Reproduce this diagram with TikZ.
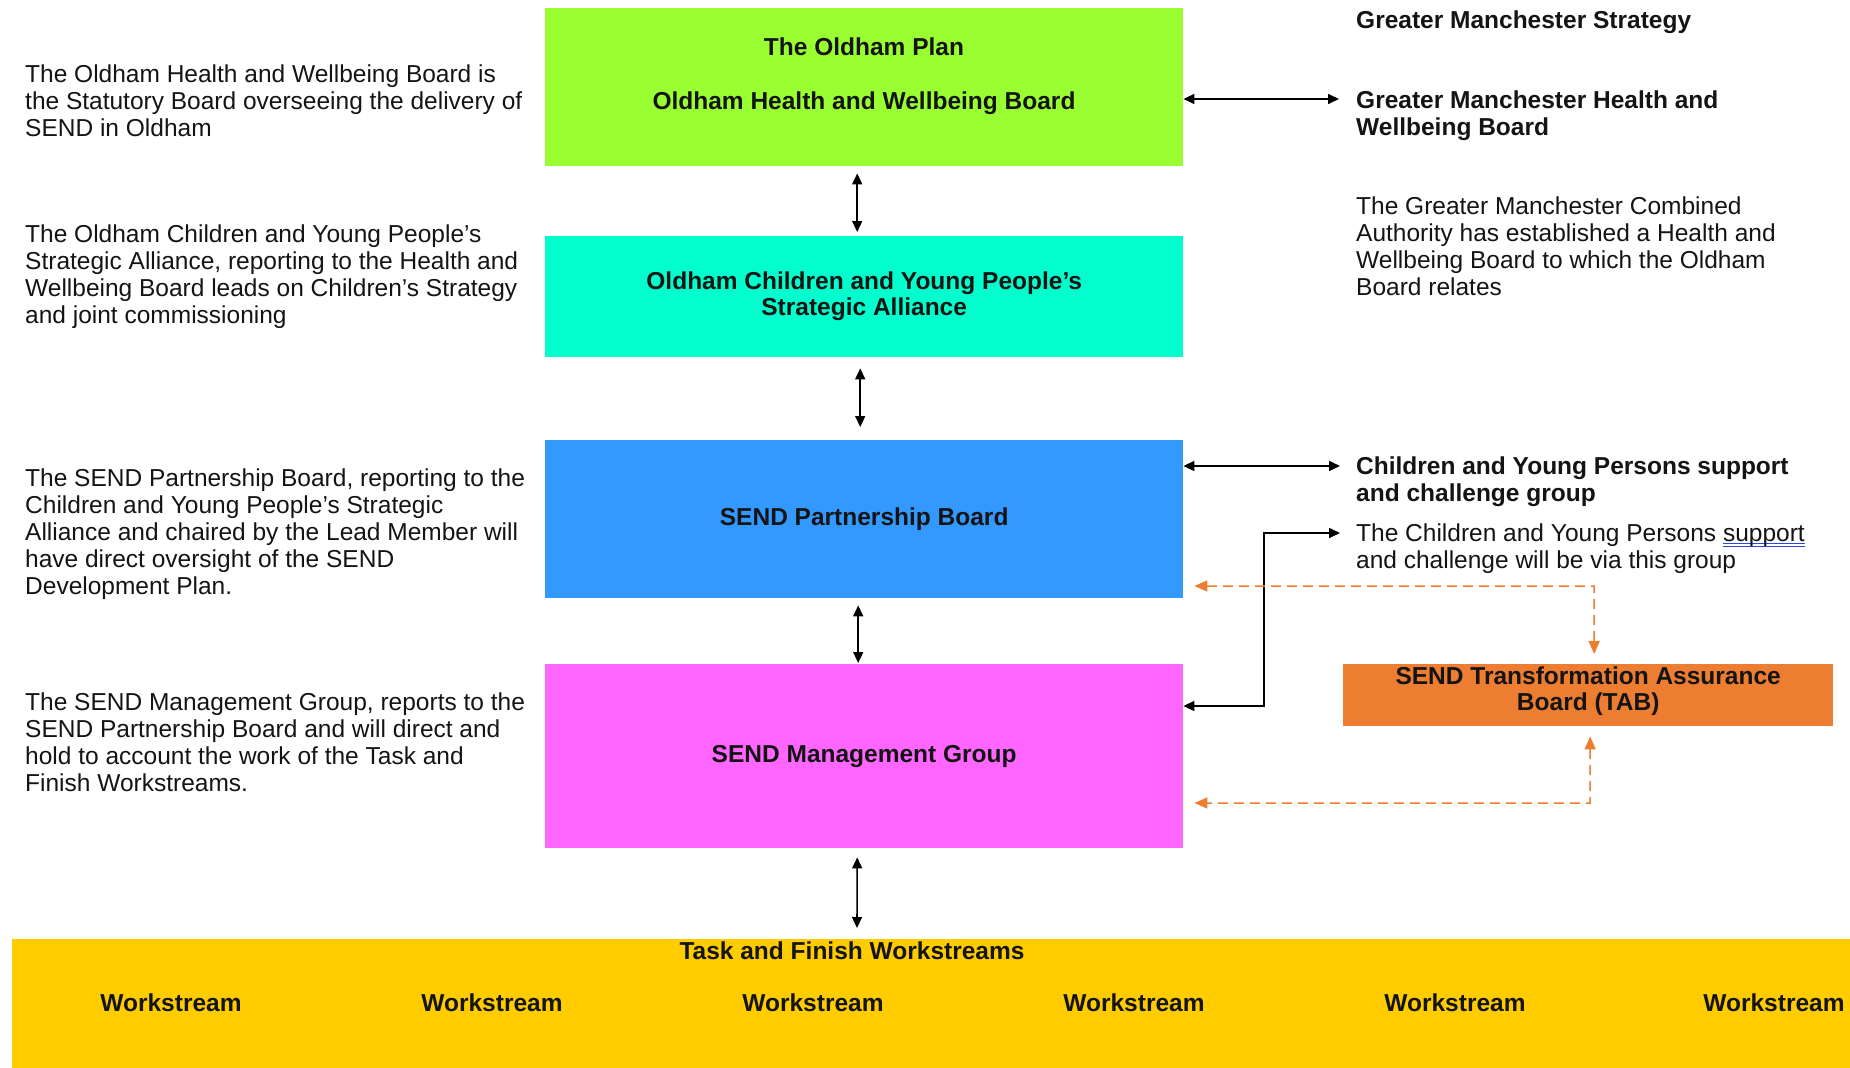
\documentclass[tikz,border=0pt]{standalone}
\usepackage{fontspec}
\setmainfont{Liberation Sans}
\usetikzlibrary{arrows.meta,calc}
\definecolor{cgreen}{RGB}{153,255,51}
\definecolor{ccyan}{RGB}{0,255,204}
\definecolor{cblue}{RGB}{51,153,255}
\definecolor{cmag}{RGB}{255,102,255}
\definecolor{corange}{RGB}{237,125,49}
\definecolor{cyellow}{RGB}{255,204,0}
\definecolor{ulblue}{RGB}{40,70,230}
\definecolor{txt}{RGB}{20,20,20}
\newlength\ulw
\newcommand\spellul[1]{\settowidth{\ulw}{#1}\rlap{\textcolor{ulblue}{\rule[-3pt]{\ulw}{1pt}}}\rlap{\textcolor{ulblue}{\rule[-6pt]{\ulw}{1pt}}}#1}
\begin{document}
\begin{tikzpicture}[x=1pt,y=1pt,
  every node/.style={font=\fontsize{24.5}{27}\selectfont, text=txt},
  box/.style={anchor=north west, inner sep=0pt, draw=none, align=center, font=\fontsize{24.5}{26}\selectfont\bfseries},
  desc/.style={anchor=north west, inner sep=0pt, align=left},
  bdesc/.style={desc, font=\fontsize{24.5}{27}\selectfont\bfseries},
  blbl/.style={inner sep=0pt, font=\fontsize{24.5}{27}\selectfont\bfseries},
  biarrow/.style={{Triangle[length=11pt,width=10pt]}-{Triangle[length=11pt,width=10pt]}, line width=1.6pt, black},
  tabarrow/.style={{Triangle[length=13pt,width=11pt]}-{Triangle[length=13pt,width=11pt]}, line width=1.5pt, corange, dash pattern=on 10pt off 6pt},
]
\useasboundingbox (0,0) rectangle (1850,-1068);

% boxes
\node[box, fill=cgreen, minimum width=638pt, minimum height=158pt] (plan) at (545,-8) {};
\node[box, fill=ccyan, minimum width=638pt, minimum height=121pt] (alliance) at (545,-236) {Oldham Children and Young People’s\\Strategic Alliance};
\node[box, fill=cblue, minimum width=638pt, minimum height=158pt] (spb) at (545,-440) {SEND Partnership Board};
\node[box, fill=cmag, minimum width=638pt, minimum height=184pt] (smg) at (545,-664) {SEND Management Group};
\node[box, fill=corange, minimum width=490pt, minimum height=62pt] (tab) at (1343,-664) {};
\node[box, fill=cyellow, minimum width=1838pt, minimum height=129pt] (tfw) at (12,-939) {};

% box labels
\node[blbl, anchor=north, align=center] (planlbl) at (864,-37.5) {The Oldham Plan\\[27pt]Oldham Health and Wellbeing Board};
\node[blbl, align=center, font=\fontsize{24.5}{26}\selectfont\bfseries] (tablbl) at ([yshift=4pt]tab.center) {SEND Transformation Assurance\\Board (TAB)};
\node[blbl, anchor=base] (tfwlbl) at (852,-959) {Task and Finish Workstreams};
\node[blbl, anchor=base] (w1) at (171,-1011) {Workstream};
\node[blbl, anchor=base] (w2) at (492,-1011) {Workstream};
\node[blbl, anchor=base] (w3) at (813,-1011) {Workstream};
\node[blbl, anchor=base] (w4) at (1134,-1011) {Workstream};
\node[blbl, anchor=base] (w5) at (1455,-1011) {Workstream};
\node[blbl, anchor=base] (w6) at (1774,-1011) {Workstream};

% left descriptions
\node[desc] (d1) at (25,-64.5) {The Oldham Health and Wellbeing Board is\\the Statutory Board overseeing the delivery of\\SEND in Oldham};
\node[desc] (d2) at (25,-224.5) {The Oldham Children and Young People’s\\Strategic Alliance, reporting to the Health and\\Wellbeing Board leads on Children’s Strategy\\and joint commissioning};
\node[desc] (d3) at (25,-468.5) {The SEND Partnership Board, reporting to the\\Children and Young People’s Strategic\\Alliance and chaired by the Lead Member will\\have direct oversight of the SEND\\Development Plan.};
\node[desc] (d4) at (25,-692.5) {The SEND Management Group, reports to the\\SEND Partnership Board and will direct and\\hold to account the work of the Task and\\Finish Workstreams.};

% right descriptions
\node[bdesc] (r1) at (1356,-10.5) {Greater Manchester Strategy};
\node[bdesc] (r2) at (1356,-90.5) {Greater Manchester Health and\\Wellbeing Board};
\node[desc] (r3) at (1356,-196.5) {The Greater Manchester Combined\\Authority has established a Health and\\Wellbeing Board to which the Oldham\\Board relates};
\node[bdesc] (r4) at (1356,-456.5) {Children and Young Persons support\\and challenge group};
\node[desc] (r5) at (1356,-523.5) {The Children and Young Persons \spellul{support}\\and challenge will be via this group};

% vertical connectors
\draw[biarrow] ([xshift=-7pt,yshift=-7pt]plan.south) -- ([xshift=-7pt,yshift=4pt]alliance.north);
\draw[biarrow] ([xshift=-4pt,yshift=-11pt]alliance.south) -- ([xshift=-4pt,yshift=13pt]spb.north);
\draw[biarrow] ([xshift=-6pt,yshift=-7pt]spb.south) -- ([xshift=-6pt,yshift=1pt]smg.north);
\draw[biarrow] ([xshift=-7pt,yshift=-9pt]smg.south) -- ([xshift=845pt,yshift=11pt]tfw.north west);

% right connectors
\coordinate (gmend) at (1339,-99);
\draw[biarrow] (plan.east |- gmend) -- (gmend);
\coordinate (cyend) at (1340,-466);
\draw[biarrow] (spb.east |- cyend) -- (cyend);
\coordinate (viaend) at (1340,-533);
\coordinate (elbow) at (1264,-706);
\draw[biarrow] (viaend) -| (elbow) -- (smg.east |- elbow);

% TAB dashed connectors
\coordinate (o1) at (1594,-586);
\draw[tabarrow] ([xshift=11pt]spb.east |- o1) -- (o1) -- ([xshift=6pt,yshift=10pt]tab.north);
\coordinate (o2) at (1590,-803);
\draw[tabarrow] ([xshift=2pt,yshift=-10pt]tab.south) -- (o2) -- ([xshift=11pt]smg.east |- o2);
\end{tikzpicture}
\end{document}
